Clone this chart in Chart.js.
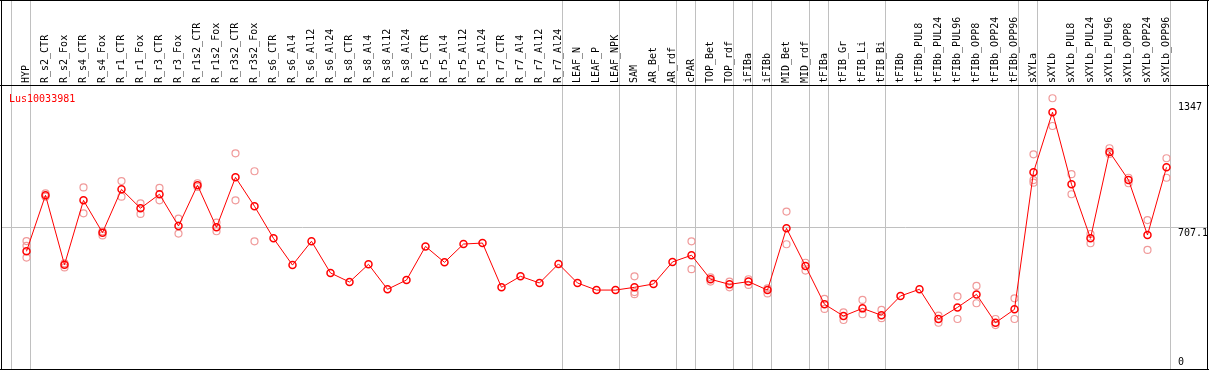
<!DOCTYPE html>
<html>
<head>
<meta charset="utf-8">
<script src="https://cdn.jsdelivr.net/npm/chart.js@4.4.1/dist/chart.umd.min.js"></script>
<style>
  html, body { margin: 0; padding: 0; background: #fff; }
  canvas { display: block; }
</style>
</head>
<body>
<canvas id="exprChart" width="1209" height="370"></canvas>
<script>
const geneName = "Lus10033981";

const tissues = [
  "HYP",
  "R_s2_CTR", "R_s2_Fox", "R_s4_CTR", "R_s4_Fox", "R_r1_CTR", "R_r1_Fox",
  "R_r3_CTR", "R_r3_Fox", "R_r1s2_CTR", "R_r1s2_Fox", "R_r3s2_CTR", "R_r3s2_Fox",
  "R_s6_CTR", "R_s6_Al4", "R_s6_Al12", "R_s6_Al24", "R_s8_CTR", "R_s8_Al4",
  "R_s8_Al12", "R_s8_Al24", "R_r5_CTR", "R_r5_Al4", "R_r5_Al12", "R_r5_Al24",
  "R_r7_CTR", "R_r7_Al4", "R_r7_Al12", "R_r7_Al24",
  "LEAF_N", "LEAF_P", "LEAF_NPK",
  "SAM", "AR_Bet", "AR_rdf",
  "cPAR",
  "TOP_Bet", "TOP_rdf",
  "iFIBa",
  "iFIBb",
  "MID_Bet", "MID_rdf",
  "tFIBa",
  "tFIB_Gr", "tFIB_Li", "tFIB_Bi",
  "tFIBb", "tFIBb_PUL8", "tFIBb_PUL24", "tFIBb_PUL96", "tFIBb_OPP8", "tFIBb_OPP24", "tFIBb_OPP96",
  "sXYLa",
  "sXYLb", "sXYLb_PUL8", "sXYLb_PUL24", "sXYLb_PUL96", "sXYLb_OPP8", "sXYLb_OPP24", "sXYLb_OPP96"
];

// index of the last tissue in each group (-1 = left edge)
const groupEnds = [-1, 0, 28, 31, 34, 35, 37, 38, 39, 41, 42, 45, 52, 53, 60];

const meanValues = [
  588,
  873, 520, 847, 683, 903, 807, 878, 717, 924, 710, 964, 817,
  654, 518, 639, 478, 432, 522, 395, 442, 613, 532, 625, 630, 405, 461, 427, 524,
  427, 391, 391,
  405, 422, 534,
  568,
  446, 420,
  434,
  391,
  705, 513,
  319,
  259, 298, 263,
  361, 395, 244, 303, 369, 225, 293,
  990,
  1295, 929, 654, 1093, 951, 671, 1015
];

const repA = [
  640,
  883, 527, 913, 690, 945, 832, 910, 754, 934, 734, 1086, 995,
  null, null, null, null, null, null, null, null, null, null, null, null, null, null, null, null,
  null, null, null,
  461, null, null,
  639,
  456, 434,
  446,
  400,
  790, 530,
  346,
  278, 341, 290,
  null, null, 261, 359, 412, 244, 349,
  1081,
  1366, 980, 676, 1112, 962, 747, 1061
];

const repB = [
  556,
  866, 506, 781, 669, 866, 778, 847, 678, 915, 690, 847, 639,
  null, null, null, null, null, null, null, null, null, null, null, null, null, null, null, null,
  null, null, null,
  370, null, null,
  497,
  434, 405,
  417,
  374,
  624, 490,
  295,
  239, 268, 248,
  null, null, 225, 244, 324, 213, 244,
  950,
  1225, 878, 629, 1083, 934, 595, 962
];

const repC = [
  616,
  null, null, null, null, null, null, null, null, null, null, null, null,
  null, null, null, null, null, null, null, null, null, null, null, null, null, null, null, null,
  null, null, null,
  381, null, null,
  null,
  null, null,
  null,
  null,
  null, null,
  null,
  null, null, null,
  null, null, null, null, null, null, null,
  937,
  null, null, null, null, null, null, null
];

const yTickValues = [0, 707.1, 1347];
const yTickLabels = ["0", "707.1", "1347"];

const monoFont = '"DejaVu Sans Mono", monospace';

const replicatePoints = [];
[repA, repB, repC].forEach((arr) => {
  arr.forEach((v, i) => {
    if (v !== null) replicatePoints.push({ x: i, y: v });
  });
});

const frameAndText = {
  id: "frameAndText",
  beforeDraw(chart) {
    const ctx = chart.ctx;
    ctx.save();
    ctx.fillStyle = "#fff";
    ctx.fillRect(0, 0, chart.width, chart.height);
    ctx.restore();
  },
  beforeDatasetsDraw(chart) {
    const ctx = chart.ctx;
    const xs = chart.scales.x;
    const area = chart.chartArea;
    ctx.save();
    ctx.strokeStyle = "#c0c0c0";
    ctx.lineWidth = 1;
    groupEnds.forEach((g) => {
      const px = Math.floor(xs.getPixelForValue(g) + 4) + 0.5;
      ctx.beginPath();
      ctx.moveTo(px, 0);
      ctx.lineTo(px, area.bottom);
      ctx.stroke();
    });
    ctx.restore();
  },
  afterDraw(chart) {
    const ctx = chart.ctx;
    const area = chart.chartArea;
    const ys = chart.scales.y;
    ctx.save();

    // frame
    ctx.fillStyle = "#000";
    ctx.fillRect(0, 0, chart.width, 1);
    ctx.fillRect(0, area.top, chart.width, 1);
    ctx.fillRect(0, area.bottom, chart.width, 1);
    ctx.fillRect(area.left, 0, 1, chart.height);
    ctx.fillRect(area.right, 0, 1, chart.height);

    // gene name
    ctx.font = "10px " + monoFont;
    ctx.textBaseline = "alphabetic";
    ctx.textAlign = "left";
    ctx.fillStyle = "#ff0000";
    ctx.fillText(geneName, area.left + 8, area.top + 16.5);

    // value labels on the right
    ctx.fillStyle = "#000";
    yTickValues.forEach((v, i) => {
      const py = ys.getPixelForValue(v);
      const by = v === 0 ? py - 2 : py + 8.5;
      ctx.fillText(yTickLabels[i], area.right - 29, by);
    });
    ctx.restore();
  }
};

new Chart(document.getElementById("exprChart"), {
  type: "line",
  data: {
    datasets: [
      {
        label: "mean",
        data: meanValues.map((v, i) => ({ x: i, y: v })),
        borderColor: "#ff0000",
        borderWidth: 1,
        tension: 0,
        pointRadius: 3.5,
        pointBorderWidth: 1.5,
        pointBorderColor: "#ff0000",
        pointBackgroundColor: "rgba(255,255,255,0)",
        order: 0
      },
      {
        type: "scatter",
        label: "replicates",
        data: replicatePoints,
        showLine: false,
        pointRadius: 3.5,
        pointBorderWidth: 1.2,
        pointBorderColor: "#f09a9a",
        pointBackgroundColor: "rgba(255,255,255,0)",
        order: 1
      }
    ]
  },
  options: {
    responsive: false,
    animation: false,
    events: [],
    layout: { autoPadding: false, padding: { left: 1, right: 2, top: 0, bottom: 1 } },
    plugins: {
      legend: { display: false },
      tooltip: { enabled: false },
      title: { display: false }
    },
    scales: {
      x: {
        type: "linear",
        position: "top",
        min: -1.3421,
        max: 62.132,
        afterBuildTicks: (s) => {
          s.ticks = tissues.map((t, i) => ({ value: i }));
        },
        afterFit: (s) => {
          s.height = 85;
          s.paddingLeft = 0;
          s.paddingRight = 0;
        },
        grid: { display: false, drawTicks: false, tickLength: 0 },
        border: { display: false },
        ticks: {
          autoSkip: false,
          minRotation: 90,
          maxRotation: 90,
          padding: 2,
          labelOffset: 12,
          color: "#000",
          font: { family: monoFont, size: 10 },
          callback: (v) => tissues[v] ?? ""
        }
      },
      y: {
        type: "linear",
        position: "right",
        min: -10.17,
        max: 1433.4,
        afterBuildTicks: (s) => {
          s.ticks = yTickValues.map((v) => ({ value: v }));
        },
        afterFit: (s) => {
          s.width = 0;
          s.paddingTop = 0;
          s.paddingBottom = 0;
        },
        grid: {
          drawTicks: false,
          color: (c) => (c.tick && c.tick.value === 707.1 ? "#c0c0c0" : "rgba(0,0,0,0)")
        },
        border: { display: false },
        ticks: { display: false }
      }
    }
  },
  plugins: [frameAndText]
});
</script>
</body>
</html>
